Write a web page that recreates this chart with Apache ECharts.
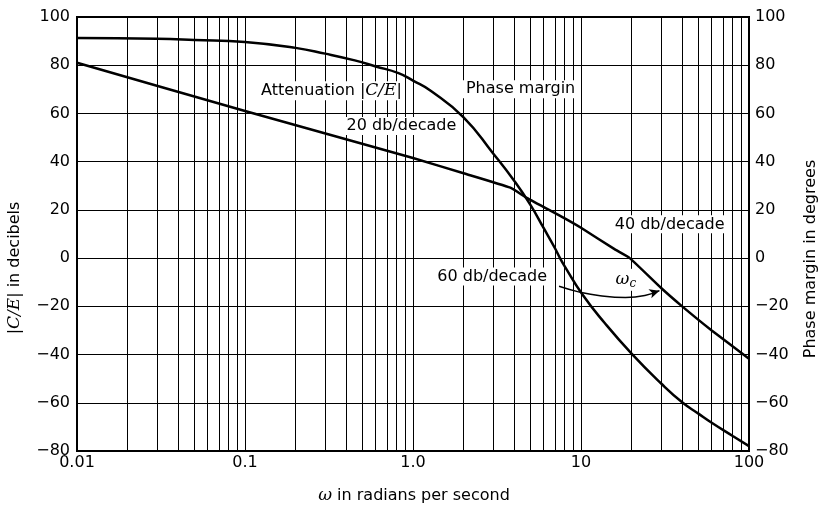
<!DOCTYPE html>
<html>
<head>
<meta charset="utf-8">
<script src="https://cdn.jsdelivr.net/npm/echarts@6/dist/echarts.min.js"></script>
<style>
  html, body { margin: 0; padding: 0; background: #fff; }
  #chart { width: 825px; height: 507px; }
</style>
</head>
<body>
<div id="chart"></div>
<script>
// x ticks (decades) and their printed labels
const omegaTicks = [0.01, 0.1, 1, 10, 100];
const omegaTickLabels = ["0.01", "0.1", "1.0", "10", "100"];
// log-paper vertical rules between decades
const omegaRules = [
  0.02, 0.03, 0.04, 0.05, 0.06, 0.07, 0.08, 0.09,
  0.2, 0.3, 0.4, 0.5, 0.6, 0.7, 0.8, 0.9,
  2, 3, 4, 5, 6, 7, 8, 9,
  20, 30, 40, 50, 60, 70, 80, 90
];

// |C/E| attenuation, dB
const attenOmega = [0.01, 0.1, 1, 2, 3.8, 4.75, 8, 10, 16, 19.5, 30, 40, 60, 100];
const attenDb = [81, 61, 41.5, 35.2, 29.2, 25, 16.5, 12.6, 3.5, 0, -12.4, -20, -30, -41.7];

// phase margin, degrees
const phaseOmega = [0.01, 0.03, 0.05, 0.1, 0.2, 0.3, 0.45, 0.6, 0.82, 1, 1.28, 2, 3, 4, 5, 6, 7, 7.5, 8, 10.2, 13.8, 20, 30, 40, 50, 60, 80, 100];
const phaseDeg = [91.3, 91, 90.5, 89.6, 87.2, 84.8, 82, 79.5, 76.7, 73.6, 69.3, 58.4, 43.4, 32.1, 22.1, 12.4, 4.1, 0, -3.4, -15.1, -26.8, -39.6, -52, -59.8, -64.5, -68.3, -73.8, -78];

// arrow from "60 db/decade" to the attenuation line
const arrowOmega = [7.4, 9.8, 13, 18.4, 24, 29.3];
const arrowVal = [-11.7, -14.1, -15.6, -16.3, -15.5, -13.5];

// in-plot notes
const noteText = ["Attenuation |{i|C/E}|", "20 db/decade", "Phase margin", "40 db/decade", "60 db/decade", "{w|ω}{s|c}"];
const noteOmega = [0.327, 0.854, 4.37, 33.7, 2.96, 18.5];
const noteVal = [69.4, 54.8, 70, 14, -7.6, -9];

const FONT = "DejaVu Sans";
const INK = "#000";

const zip = (xs, ys) => xs.map((x, i) => [x, ys[i]]);
const fmtSigned = (v) => (v < 0 ? "\u2212" + (-v) : String(v));
const richItalic = {
  i: { fontFamily: "DejaVu Serif", fontStyle: "italic", fontSize: 17, color: INK },
  w: { fontFamily: "DejaVu Serif", fontStyle: "italic", fontSize: 17, color: INK },
  s: { fontFamily: "DejaVu Serif", fontStyle: "italic", fontSize: 12, color: INK, padding: [8, 0, 0, 0] }
};

const chart = echarts.init(document.getElementById("chart"), null, { renderer: "canvas" });

const option = {
  backgroundColor: "#fff",
  animation: false,
  grid: { left: 77, right: 76, top: 17, bottom: 56, show: true, borderColor: "#000", borderWidth: 2, backgroundColor: "transparent" },
  xAxis: {
    type: "log",
    logBase: 10,
    min: omegaTicks[0],
    max: omegaTicks[omegaTicks.length - 1],
    axisLine: { show: false },
    axisTick: { show: false },
    splitLine: { show: true, lineStyle: { color: INK, width: 1 } },
    axisLabel: {
      margin: 4,
      fontFamily: FONT, fontSize: 16, color: INK,
      formatter: (v) => omegaTickLabels[Math.round(Math.log10(v)) + 2]
    }
  },
  yAxis: [
    {
      type: "value", min: -80, max: 100, interval: 20,
      axisLine: { show: false }, axisTick: { show: false },
      splitLine: { show: true, lineStyle: { color: INK, width: 1 } },
      axisLabel: { margin: 7, fontFamily: FONT, fontSize: 16, color: INK, formatter: fmtSigned }
    },
    {
      type: "value", min: -80, max: 100, interval: 20, position: "right",
      axisLine: { show: false }, axisTick: { show: false }, splitLine: { show: false },
      axisLabel: { margin: 6, fontFamily: FONT, fontSize: 16, color: INK, formatter: fmtSigned }
    }
  ],
  series: [
    {
      name: "rules",
      type: "line",
      data: [],
      z: 1,
      silent: true,
      markLine: {
        silent: true,
        symbol: "none",
        label: { show: false },
        lineStyle: { color: INK, width: 1, type: "solid" },
        data: omegaRules.map((w) => ({ xAxis: w }))
      }
    },
    {
      name: "notes",
      type: "scatter",
      z: 5,
      symbolSize: 0,
      itemStyle: { opacity: 1 },
      data: zip(noteOmega, noteVal),
      label: {
        show: true,
        position: "inside",
        fontFamily: FONT, fontSize: 16, color: INK,
        backgroundColor: "#fff",
        padding: [1, 3],
        rich: richItalic,
        formatter: (p) => noteText[p.dataIndex]
      }
    },
    {
      name: "Attenuation |C/E|",
      type: "line",
      z: 4,
      data: zip(attenOmega, attenDb),
      symbol: "none",
      smooth: 0.15,
      lineStyle: { color: INK, width: 2.5 }
    },
    {
      name: "Phase margin",
      type: "line",
      z: 4,
      data: zip(phaseOmega, phaseDeg),
      symbol: "none",
      smooth: 0.5,
      lineStyle: { color: INK, width: 2.5 }
    },
    {
      name: "arrow",
      type: "line",
      z: 4,
      data: zip(arrowOmega, arrowVal),
      smooth: 0.5,
      showSymbol: true,
      symbol: (v, p) => (p.dataIndex === arrowOmega.length - 1 ? "arrow" : "none"),
      symbolSize: [7, 10],
      symbolRotate: -72,
      itemStyle: { color: INK },
      lineStyle: { color: INK, width: 1.5 }
    }
  ],
  graphic: [
    {
      type: "text", x: 15, y: 268, rotation: Math.PI / 2,
      style: { text: "|{i|C/E}| in decibels", rich: richItalic, font: "16px " + FONT, fill: INK, align: "center", verticalAlign: "middle" }
    },
    {
      type: "text", x: 811, y: 259, rotation: Math.PI / 2,
      style: { text: "Phase margin in degrees", font: "16px " + FONT, fill: INK, align: "center", verticalAlign: "middle" }
    },
    {
      type: "text", x: 414, y: 496,
      style: { text: "{w|ω} in radians per second", rich: { w: { fontFamily: "DejaVu Serif", fontStyle: "italic", fontSize: 17, fill: INK } }, font: "16px " + FONT, fill: INK, align: "center", verticalAlign: "middle" }
    }
  ]
};

chart.setOption(option);
</script>
</body>
</html>
